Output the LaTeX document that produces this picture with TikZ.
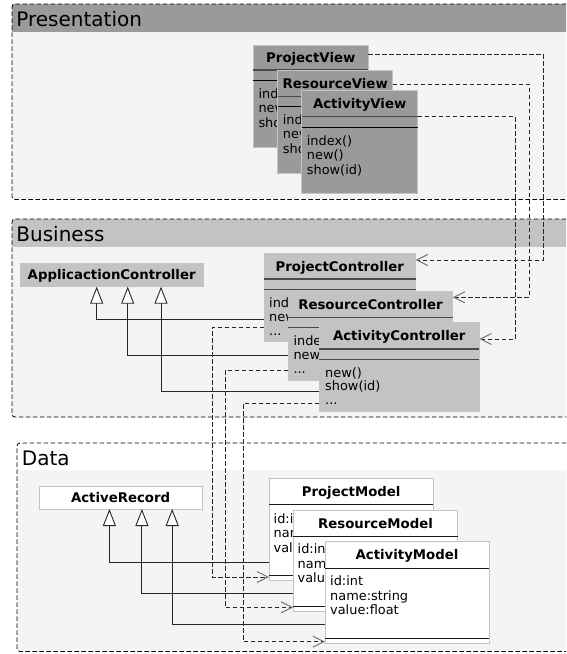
\documentclass[tikz,border=0pt]{standalone}
\usepackage{fontspec}
\setmainfont{DejaVu Sans}
\usetikzlibrary{arrows.meta,calc}

\definecolor{pkgbody}{HTML}{F4F4F4}
\definecolor{viewfill}{HTML}{9A9A9A}
\definecolor{ctrlfill}{HTML}{C3C3C3}
\definecolor{boxedge}{HTML}{C4C4C4}
\definecolor{sepdark}{HTML}{4A4A4A}

\newcommand\classfont{\fontsize{13.3}{15}\selectfont\bfseries}
\newcommand\opfont{\fontsize{12.9}{14.5}\selectfont}
\newcommand\pkgfont{\fontsize{20}{24}\selectfont}

% three operation / attribute lines of a class compartment
\newcommand\complines[6]{%
  \node[optext] (#1a) at (#2,#3) {#4};
  \node[optext] (#1b) at (#2,#3+14.4) {#5};
  \node[optext] (#1c) at (#2,#3+28.8) {#6};}

\tikzset{
  pkgframe/.style={draw=black, line width=0.8pt, dash pattern=on 4.5pt off 2.5pt,
    rounded corners=3pt, anchor=north west, inner sep=0, outer sep=0},
  classbox/.style={draw=boxedge, line width=0.8pt, anchor=north west, inner sep=0, outer sep=0},
  viewbox/.style={classbox, fill=viewfill},
  ctrlbox/.style={classbox, fill=ctrlfill},
  modelbox/.style={classbox, fill=white},
  cname/.style={anchor=base, inner sep=0, font=\classfont},
  optext/.style={anchor=base west, inner sep=0, font=\opfont},
  pkgname/.style={anchor=base west, inner sep=0, font=\pkgfont},
  sepname/.style={draw=sepdark, line width=1.5pt},
  sepattr/.style={draw=black, line width=1pt},
  sepctrl/.style={draw=sepdark, line width=1.3pt},
  sepmodel/.style={draw=black!90, line width=1pt},
  dep/.style={draw=black!85, line width=0.8pt, dash pattern=on 4.5pt off 2.5pt,
    -{Straight Barb[length=11pt,width=11pt,line width=1pt,color=black!55]}},
  inherit/.style={draw=black!85, line width=0.9pt,
    -{Triangle[length=17pt,width=13pt,fill=white]}},
}

\begin{document}
\begin{tikzpicture}[x=1pt,y=-1pt]
\clip (0,0) rectangle (566,654);
\fill[white] (0,0) rectangle (566,654);

% ---------- packages ----------
\fill[pkgbody, rounded corners=3pt] (12,4) rectangle (590,199.5);
\fill[viewfill] (12,4) rectangle (590,32);
\node[pkgframe, minimum width=578, minimum height=195.5] (presentation) at (12,4) {};
\node[pkgname] (presentationname) at (16.2,26) {Presentation};

\fill[pkgbody, rounded corners=3pt] (12,219) rectangle (590,417);
\fill[ctrlfill] (12,219) rectangle (590,247);
\node[pkgframe, minimum width=578, minimum height=198] (business) at (12,219) {};
\node[pkgname] (businessname) at (16.2,241) {Business};

\fill[pkgbody, rounded corners=3pt] (17,443) rectangle (590,651.5);
\fill[white, rounded corners=3pt] (17,443) rectangle (590,470);
\fill[pkgbody] (17,470) rectangle (590,480);
\node[pkgframe, minimum width=573, minimum height=208.5] (data) at (17,443) {};
\node[pkgname] (dataname) at (21.7,465) {Data};

% ---------- views ----------
\node[viewbox, minimum width=115, minimum height=102.3] (pv) at (253.3,45) {};
\node[cname] (pvname) at ($(pv.north)+(0,17.3)$) {ProjectView};
\draw[sepname] ($(pv.north west)+(0,25)$) -- ($(pv.north east)+(0,25)$);
\draw[sepattr] ($(pv.north west)+(0,35.7)$) -- ($(pv.north east)+(0,35.7)$);
\complines{pvop}{258.3}{98.2}{index()}{new()}{show(id)}

\node[viewbox, minimum width=115, minimum height=102.6] (rv) at (277.7,70.7) {};
\node[cname] (rvname) at ($(rv.north)+(0,17.8)$) {ResourceView};
\draw[sepname] ($(rv.north west)+(0,26)$) -- ($(rv.north east)+(0,26)$);
\draw[sepattr] ($(rv.north west)+(0,36)$) -- ($(rv.north east)+(0,36)$);
\complines{rvop}{282.7}{124.5}{index()}{new()}{show(id)}

\node[viewbox, minimum width=116, minimum height=103.3] (av) at (301.7,90) {};
\node[cname] (avname) at ($(av.north)+(0,18.1)$) {ActivityView};
\draw[sepname] ($(av.north west)+(0,26.7)$) -- ($(av.north east)+(0,26.7)$);
\draw[sepattr] ($(av.north west)+(0,37.7)$) -- ($(av.north east)+(0,37.7)$);
\complines{avop}{306.7}{145.2}{index()}{new()}{show(id)}

% ---------- controllers ----------
\node[ctrlbox, minimum width=183.3, minimum height=23.4] (apc) at (20,263.3) {};
\node[cname] (apcname) at ($(apc.north)+(0,16.5)$) {ApplicactionController};

\node[ctrlbox, minimum width=151.7, minimum height=88.4] (pc) at (264,253.3) {};
\node[cname] (pcname) at ($(pc.north)+(0,17.7)$) {ProjectController};
\draw[sepctrl] ($(pc.north west)+(0,25.7)$) -- ($(pc.north east)+(0,25.7)$);
\draw[sepctrl] ($(pc.north west)+(0,36)$) -- ($(pc.north east)+(0,36)$);
\complines{pcop}{269}{307.1}{index()}{new()}{...}

\node[ctrlbox, minimum width=164.4, minimum height=89] (rc) at (288.3,291) {};
\node[cname] (rcname) at ($(rc.north)+(0,18)$) {ResourceController};
\draw[sepctrl] ($(rc.north west)+(0,26.3)$) -- ($(rc.north east)+(0,26.3)$);
\draw[sepctrl] ($(rc.north west)+(0,36.3)$) -- ($(rc.north east)+(0,36.3)$);
\complines{rcop}{293.3}{345.1}{index()}{new()}{...}

\node[ctrlbox, minimum width=160, minimum height=89.4] (ac) at (319.3,322.3) {};
\node[cname] (acname) at ($(ac.north)+(0,18.2)$) {ActivityController};
\draw[sepctrl] ($(ac.north west)+(0,26.7)$) -- ($(ac.north east)+(0,26.7)$);
\draw[sepctrl] ($(ac.north west)+(0,37)$) -- ($(ac.north east)+(0,37)$);
\node[optext] (acopa) at (325,377.3) {new()};
\node[optext] (acopb) at (325,390.7) {show(id)};
\node[optext] (acopc) at (325,404.5) {...};

% ---------- models ----------
\node[modelbox, minimum width=163.2, minimum height=23] (ar) at (39,486) {};
\node[cname] (arname) at ($(ar.north)+(0,16.3)$) {ActiveRecord};

\node[modelbox, minimum width=164.3, minimum height=101.7] (pm) at (269,478.3) {};
\node[cname] (pmname) at ($(pm.north)+(0,17.8)$) {ProjectModel};
\draw[sepmodel] ($(pm.north west)+(0,26)$) -- ($(pm.north east)+(0,26)$);
\draw[sepmodel] ($(pm.north west)+(0,96.7)$) -- ($(pm.north east)+(0,96.7)$);
\complines{pmat}{273.5}{523.5}{id:int}{name:string}{value:float}

\node[modelbox, minimum width=164.4, minimum height=101.7] (rm) at (293.3,510) {};
\node[cname] (rmname) at ($(rm.north)+(0,18.1)$) {ResourceModel};
\draw[sepmodel] ($(rm.north west)+(0,26.7)$) -- ($(rm.north east)+(0,26.7)$);
\draw[sepmodel] ($(rm.north west)+(0,96)$) -- ($(rm.north east)+(0,96)$);
\complines{rmat}{297.5}{553.8}{id:int}{name:string}{value:float}

\node[modelbox, minimum width=164, minimum height=102.3] (am) at (325,541) {};
\node[cname] (amname) at ($(am.north)+(0,18.5)$) {ActivityModel};
\draw[sepmodel] ($(am.north west)+(0,27.3)$) -- ($(am.north east)+(0,27.3)$);
\draw[sepmodel] ($(am.north west)+(0,97.3)$) -- ($(am.north east)+(0,97.3)$);
\complines{amat}{330}{585.6}{id:int}{name:string}{value:float}

% ---------- dependencies: views -> controllers ----------
\draw[dep] ($(pv.north east)+(0,9)$) -- ++(175,0) |- ($(pc.north east)+(0,6.7)$);
\draw[dep] ($(rv.north east)+(0,13.6)$) -- ++(136.6,0) |- ($(rc.north east)+(0,6.3)$);
\draw[dep] ($(av.north east)+(0,26.7)$) -- ++(97.6,0) |- ($(ac.north east)+(0,16.7)$);

% ---------- dependencies: controllers -> models ----------
\draw[dep] ($(pc.north west)+(0,73.7)$) -- ++(-52,0) |- ($(pm.north west)+(0,98.7)$);
\draw[dep] ($(rc.north west)+(0,79.5)$) -- ++(-63.3,0) |- ($(rm.north west)+(0,97.3)$);
\draw[dep] ($(ac.north west)+(0,81)$) -- ++(-76,0) |- ($(am.north west)+(0,100.7)$);

% ---------- generalizations ----------
\draw[inherit] ($(pc.north west)+(0,66)$) -| ($(apc.south west)+(76.7,0)$);
\draw[inherit] ($(rc.north west)+(0,64.3)$) -| ($(apc.south west)+(107.7,0)$);
\draw[inherit] ($(ac.north west)+(0,69)$) -| ($(apc.south west)+(141,0)$);

\draw[inherit] ($(pm.north west)+(0,83.7)$) -| ($(ar.south west)+(70.4,0)$);
\draw[inherit] ($(rm.north west)+(0,83)$) -| ($(ar.south west)+(102.9,0)$);
\draw[inherit] ($(am.north west)+(0,83.3)$) -| ($(ar.south west)+(133.2,0)$);
\end{tikzpicture}
\end{document}
